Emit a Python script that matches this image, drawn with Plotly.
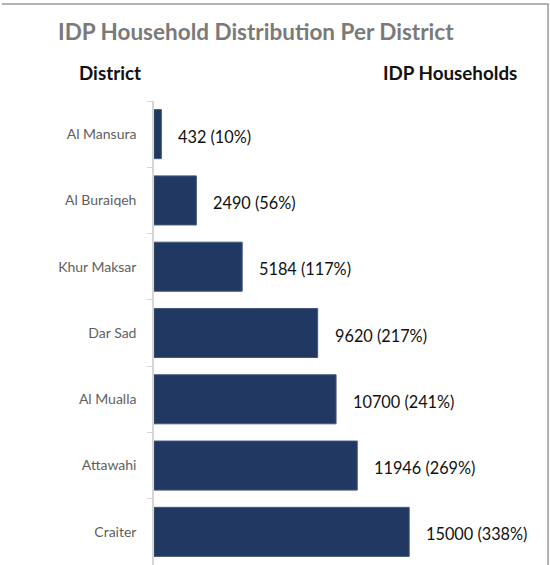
import plotly.graph_objects as go

districts = ["Al Mansura", "Al Buraiqeh", "Khur Maksar", "Dar Sad", "Al Mualla", "Attawahi", "Craiter"]
households = [432, 2490, 5184, 9620, 10700, 11946, 15000]
percent_labels = ["10%", "56%", "117%", "217%", "241%", "269%", "338%"]

labels = [f"{v} ({p})" for v, p in zip(households, percent_labels)]

fig = go.Figure()
fig.add_trace(go.Bar(
    x=households, y=districts, orientation="h",
    marker=dict(color="#213862", line=dict(color="#41577e", width=1)),
    hoverinfo="skip",
))

for v, d, t in zip(households, districts, labels):
    fig.add_annotation(x=v, y=d, text=t, showarrow=False, xanchor="left",
                       xshift=15, yshift=-2,
                       font=dict(family="Lato", size=16.3, color="#111111"))

fig.update_layout(
    width=550, height=565,
    margin=dict(l=154, r=20, t=101, b=0, autoexpand=False),
    paper_bgcolor="white", plot_bgcolor="white",
    showlegend=False,
    bargap=0.26,
    font=dict(family="Lato"),
    title=dict(text="<b>IDP Household Distribution Per District</b>",
               x=0.465, xanchor="center", y=0.943, yanchor="middle",
               font=dict(family="Lato", size=22.5, color="#7a7a7a"), automargin=False),
    xaxis=dict(range=[0, 22100], visible=False, fixedrange=True, automargin=False),
    yaxis=dict(autorange="reversed", showline=True, linecolor="#d6d6d6", linewidth=1.5,
               ticks="outside", tickson="boundaries", ticklen=5, tickcolor="#d6d6d6",
               tickfont=dict(family="Lato", size=14, color="#5f5f5f"),
               showgrid=False, ticklabelstandoff=13, automargin=False, fixedrange=True),
    shapes=[
        dict(type="line", xref="paper", yref="paper", x0=-0.405, x1=1.05, y0=1.209, y1=1.209,
             line=dict(color="#9a9a9a", width=1.5), layer="above"),
        dict(type="line", xref="paper", yref="paper", x0=1.048, x1=1.048, y0=1.209, y1=-0.05,
             line=dict(color="#9a9a9a", width=1.5)),
    ],
    annotations=list(fig.layout.annotations) + [
        dict(text="<b>District</b>", xref="paper", yref="paper", x=-0.205, y=1.062,
             xanchor="left", yanchor="middle", showarrow=False,
             font=dict(family="Lato", size=18.8, color="#111111")),
        dict(text="<b>IDP Households</b>", xref="paper", yref="paper", x=0.604, y=1.062,
             xanchor="left", yanchor="middle", showarrow=False,
             font=dict(family="Lato", size=18.8, color="#111111")),
    ],
)

fig.write_html("out.html", config={"displayModeBar": False},
               post_script="document.body.style.margin='0';")
